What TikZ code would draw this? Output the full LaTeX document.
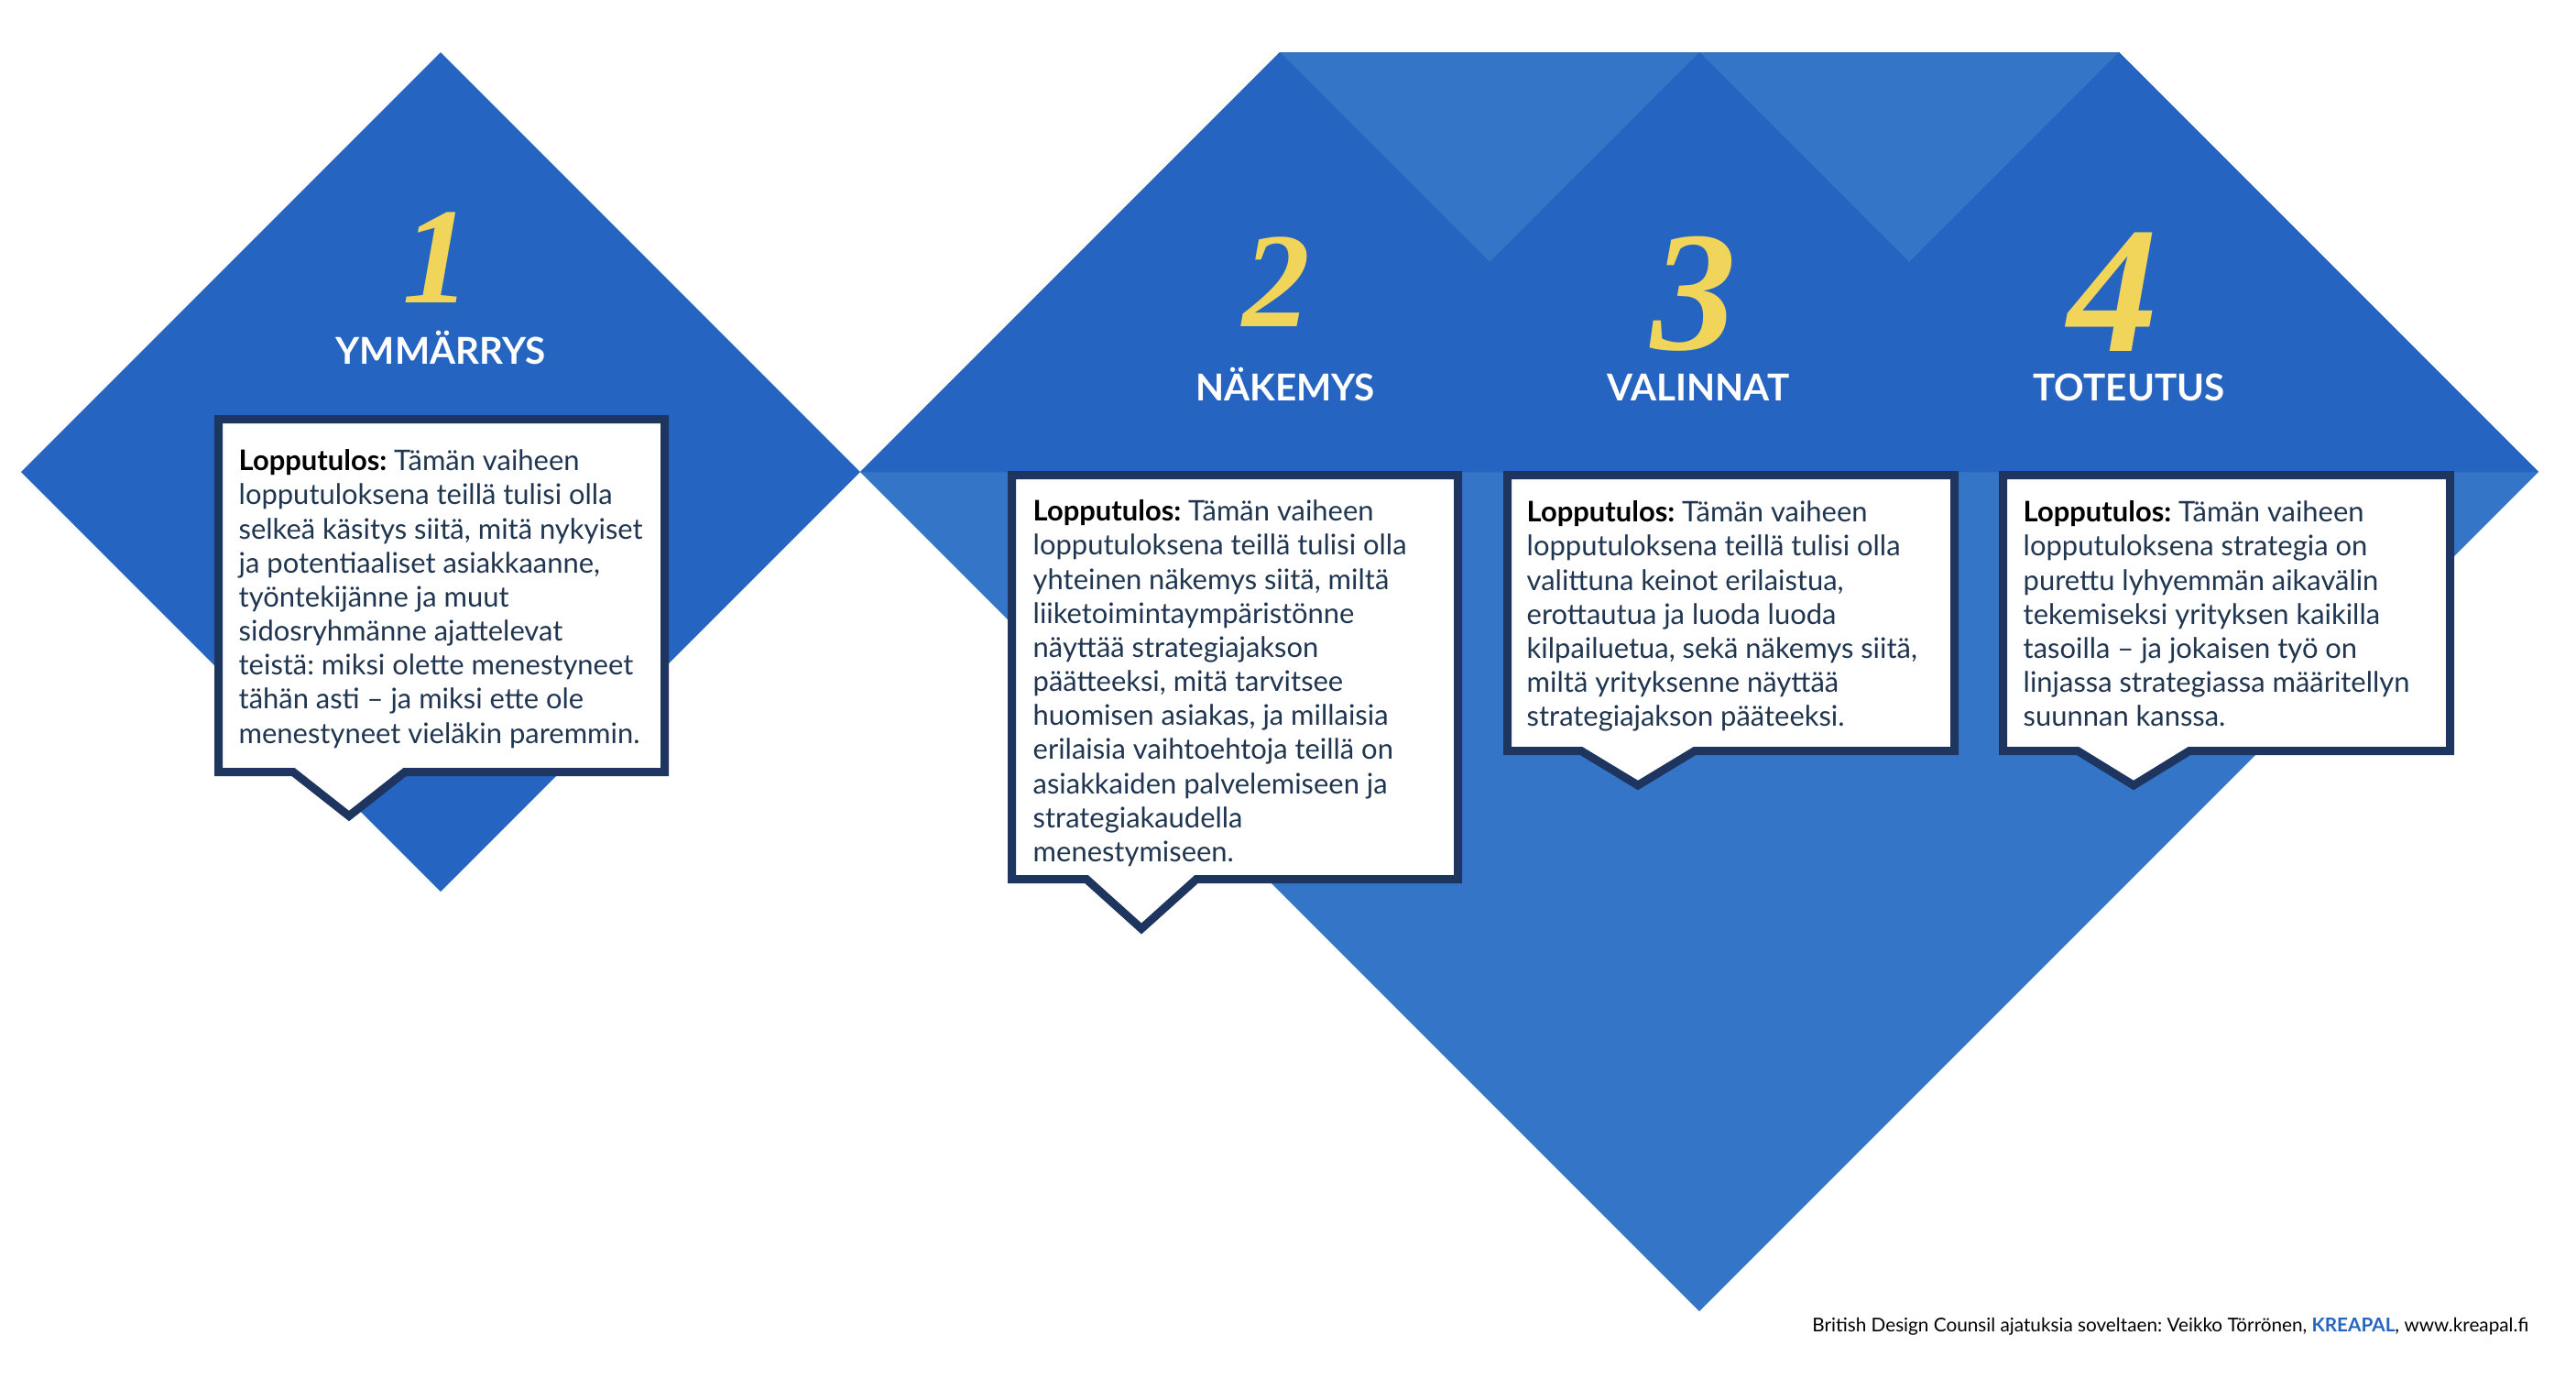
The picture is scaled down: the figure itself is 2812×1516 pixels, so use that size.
\documentclass[tikz,border=0pt]{standalone}
\usepackage{fontspec}
\setmainfont{Lato}
\newfontfamily\numfont{Liberation Serif}
\usetikzlibrary{positioning}
\definecolor{kblue}{HTML}{2564C0}
\definecolor{klight}{HTML}{3575C8}
\definecolor{knavy}{HTML}{1E3560}
\definecolor{kyellow}{HTML}{F0D55A}
\definecolor{ktext}{HTML}{1F3550}
\frenchspacing

\begin{document}
\begin{tikzpicture}[x=0.1mm,y=-0.1mm,
  numeral/.style={text=kyellow, inner sep=0, anchor=base,
    font=\numfont\bfseries\itshape\fontsize{#1}{#1}\selectfont},
  phase/.style={text=white, inner sep=0, anchor=base,
    font=\bfseries\fontsize{11.5}{12}\selectfont},
  balloon/.style={draw=knavy, fill=white, line width=2.56pt, line join=miter},
  outcome/.style={text=ktext, inner sep=0, anchor=north west, align=left,
    font=\fontsize{8.8}{10.58}\selectfont}]
 \useasboundingbox (0,0) rectangle (2812,1516);
 % diamonds
 \fill[kblue] (23,515) -- (481,57) -- (939,515) -- (481,973) -- cycle;
 \fill[klight] (939,515) -- (1397,57) -- (2313,57) -- (2771,515) -- (1855,1431) -- cycle;
 \foreach \c in {1397,1855,2313}
   \fill[kblue] (\c-458,515) -- (\c,57) -- (\c+458,515) -- cycle;
 % numbers and phases
 \node[numeral=42.5] (n1) at (477,330) {1};
 \node[numeral=42] (n2) at (1393,356) {2};
 \node[numeral=53] (n3) at (1849,381) {3};
 \node[numeral=56] (n4) at (2307,383) {4};
 \node[phase] (p1) at (481,397) {YMMÄRRYS};
 \node[phase] (p2) at (1403,437) {NÄKEMYS};
 \node[phase] (p3) at (1854,437) {VALINNAT};
 \node[phase] (p4) at (2324,437) {TOTEUTUS};
 % balloons
 \draw[balloon] (238.5,457.5) -- (725.5,457.5) -- (725.5,842.5) -- (442,842.5)
   -- (381,890.5) -- (320,842.5) -- (238.5,842.5) -- cycle;
 \draw[balloon] (1104.5,518.5) -- (1591.5,518.5) -- (1591.5,959.5) -- (1306,959.5)
   -- (1246,1013.5) -- (1186,959.5) -- (1104.5,959.5) -- cycle;
 \draw[balloon] (1645.5,518.5) -- (2133.5,518.5) -- (2133.5,819.5) -- (1850,819.5)
   -- (1788,857) -- (1726,819.5) -- (1645.5,819.5) -- cycle;
 \draw[balloon] (2186.5,518.5) -- (2674.5,518.5) -- (2674.5,819.5) -- (2390,819.5)
   -- (2329,857) -- (2268,819.5) -- (2186.5,819.5) -- cycle;
 \node[outcome] (t1) at (260,490) {\textcolor{black}{\bfseries Lopputulos:} Tämän vaiheen\\
   lopputuloksena teillä tulisi olla\\
   selkeä käsitys siitä, mitä nykyiset\\
   ja potentiaaliset asiakkaanne,\\
   työntekijänne ja muut\\
   sidosryhmänne ajattelevat\\
   teistä: miksi olette menestyneet\\
   tähän asti – ja miksi ette ole\\
   menestyneet vieläkin paremmin.};
 \node[outcome] (t2) at (1127,545) {\textcolor{black}{\bfseries Lopputulos:} Tämän vaiheen\\
   lopputuloksena teillä tulisi olla\\
   yhteinen näkemys siitä, miltä\\
   liiketoimintaympäristönne\\
   näyttää strategiajakson\\
   päätteeksi, mitä tarvitsee\\
   huomisen asiakas, ja millaisia\\
   erilaisia vaihtoehtoja teillä on\\
   asiakkaiden palvelemiseen ja\\
   strategiakaudella\\
   menestymiseen.};
 \node[outcome] (t3) at (1666,546) {\textcolor{black}{\bfseries Lopputulos:} Tämän vaiheen\\
   lopputuloksena teillä tulisi olla\\
   valittuna keinot erilaistua,\\
   erottautua ja luoda luoda\\
   kilpailuetua, sekä näkemys siitä,\\
   miltä yrityksenne näyttää\\
   strategiajakson pääteeksi.};
 \node[outcome] (t4) at (2208,546) {\textcolor{black}{\bfseries Lopputulos:} Tämän vaiheen\\
   lopputuloksena strategia on\\
   purettu lyhyemmän aikavälin\\
   tekemiseksi yrityksen kaikilla\\
   tasoilla – ja jokaisen työ on\\
   linjassa strategiassa määritellyn\\
   suunnan kanssa.};
 % credit line
 \node[inner sep=0, anchor=base east, font=\fontsize{5.9}{7}\selectfont] (credit) at (2761,1453)
   {British Design Counsil ajatuksia soveltaen: Veikko Törrönen, \textcolor{kblue}{\bfseries KREAPAL}, www.kreapal.fi};
\end{tikzpicture}
\end{document}
